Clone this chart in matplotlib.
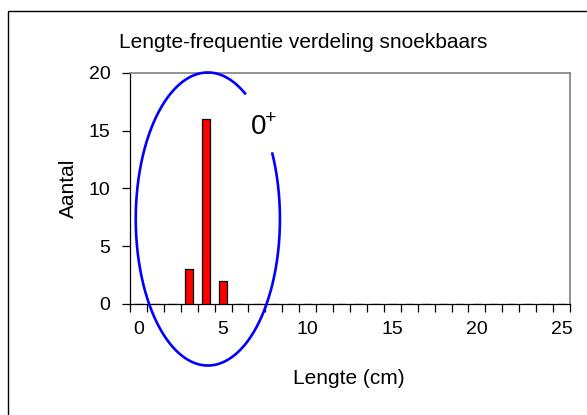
import numpy as np
import matplotlib
matplotlib.use("Agg")
import matplotlib.pyplot as plt
from matplotlib.patches import Rectangle

plt.rcParams['font.family'] = ['Liberation Sans', 'DejaVu Sans']

# length classes (cm) and counts
lengths = np.arange(0, 26)
counts = np.zeros(26)
counts[[3, 4, 5]] = [3, 16, 2]

title = "Lengte-frequentie verdeling snoekbaars"
xlabel = "Lengte (cm)"
ylabel = "Aantal"
group_label = "0"

fig = plt.figure(figsize=(5.87, 4.15), dpi=100)
ax = fig.add_axes([130/587, 1 - 304/415, 440/587, (304 - 72.7)/415])

ax.bar(lengths, counts, width=0.5, color="#FF0000", edgecolor="black", linewidth=0.9, zorder=3)

ax.set_xlim(-0.5, 25.5)
ax.set_ylim(0, 20)

# labels every 5 cm, tick marks between classes
ax.set_xticks(np.arange(0, 26, 5))
ax.set_xticks(np.arange(-0.5, 26, 1), minor=True)
ax.tick_params(axis="x", which="major", length=0, pad=12, labelsize=14)
ax.tick_params(axis="x", which="minor", length=6, width=0.9, direction="out")
ax.set_yticks(np.arange(0, 21, 5))
ax.tick_params(axis="y", length=6, width=0.9, pad=8, labelsize=14)

for side in ["top", "right"]:
    ax.spines[side].set_color("#808080")
    ax.spines[side].set_linewidth(1.2)
for side in ["left", "bottom"]:
    ax.spines[side].set_linewidth(0.9)

# ellipse around the 0+ group, open at the top right
t = np.deg2rad(np.linspace(59, 386.5, 400))
ax.plot(4.1 + 4.26*np.cos(t), 7.35 + 12.67*np.sin(t), color="#0000FF", lw=1.9,
        clip_on=False, zorder=4)
ax.text(7.12, 15.3, group_label, fontsize=20, ha="center", va="center")
ax.text(7.83, 16.05, "+", fontsize=14, ha="center", va="center")

fig.text(303/587, 1 - 42/415, title, fontsize=15, ha="center", va="center")
fig.text(349/587, 1 - 378/415, xlabel, fontsize=15, ha="center", va="center")
fig.text(68/587, 1 - 188/415, ylabel, fontsize=15, ha="center", va="center", rotation=90)

# chart border
fig.patches.append(Rectangle((8/587, -0.1), 1.0, 1.1 - 11/415, transform=fig.transFigure,
                             fill=False, edgecolor="black", linewidth=1.0))

fig.savefig("out.png", dpi=100)
